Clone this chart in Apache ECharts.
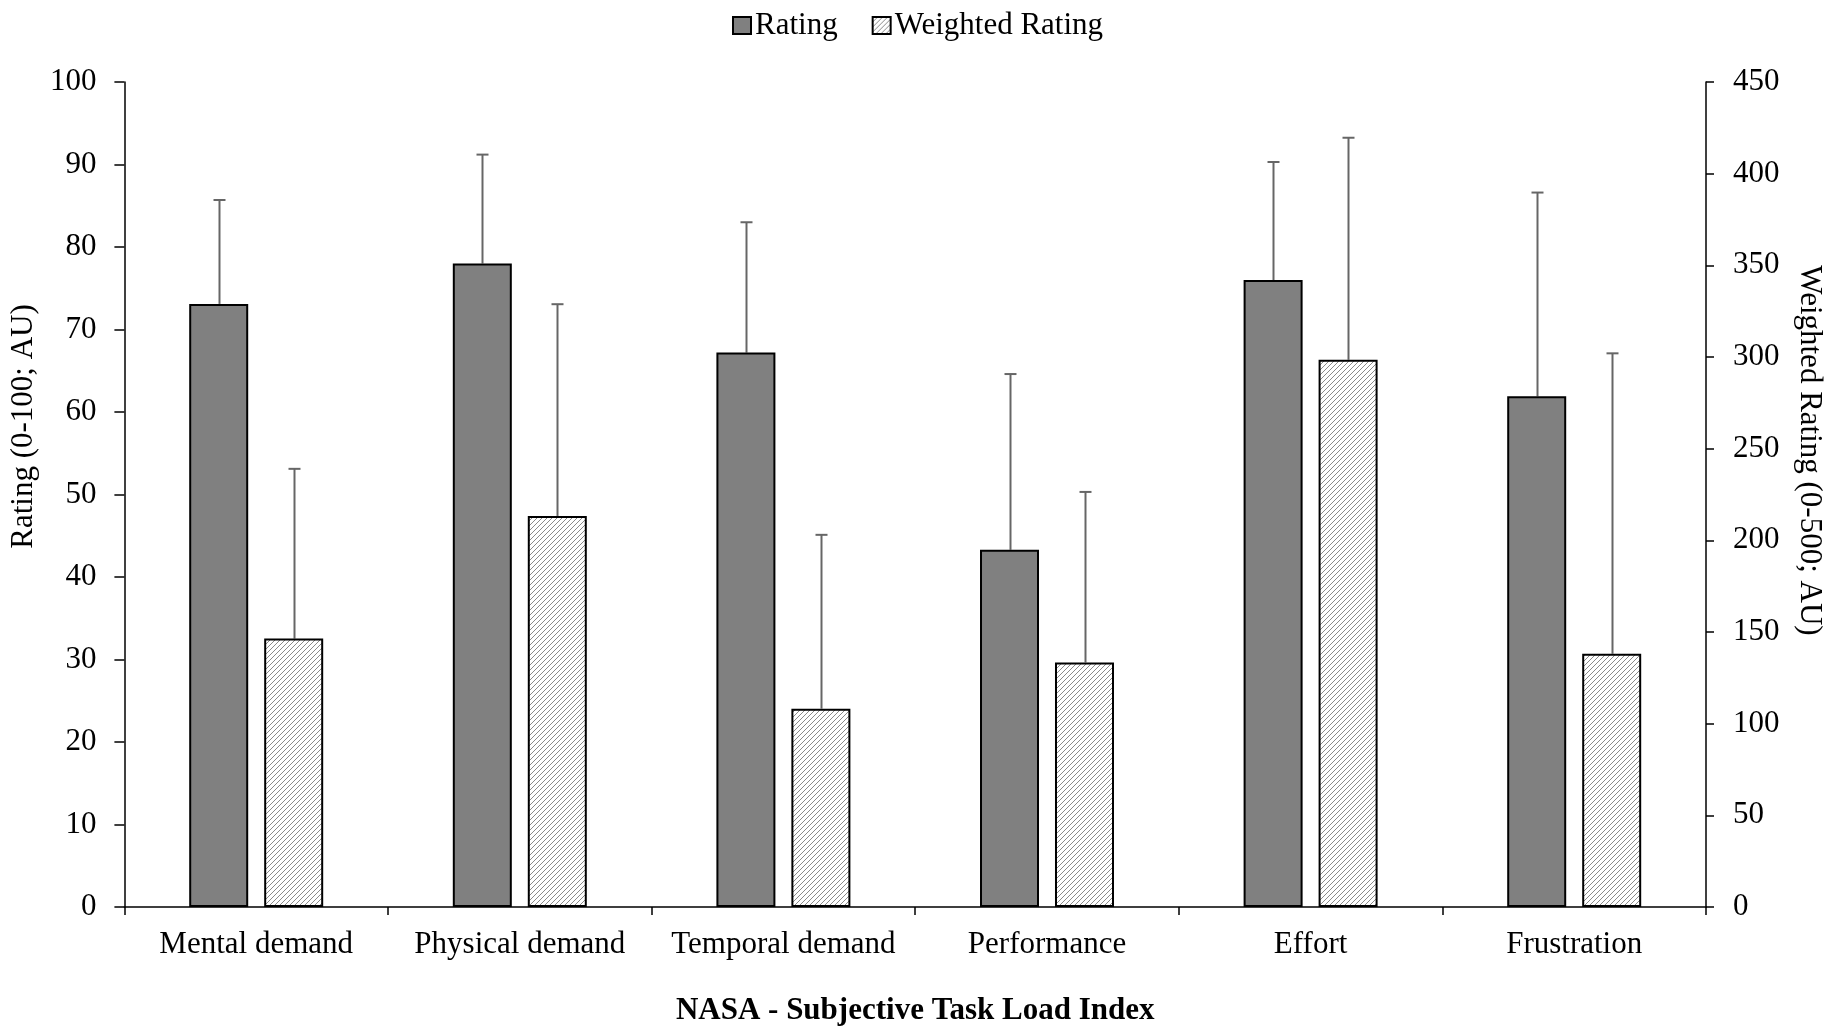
<!DOCTYPE html>
<html>
<head>
<meta charset="utf-8">
<script src="https://cdn.jsdelivr.net/npm/echarts@6/dist/echarts.min.js"></script>
<style>
  html, body { margin:0; padding:0; background:#fff; }
  #chart { width:1843px; height:1031px; }
</style>
</head>
<body>
<div id="chart"></div>
<script>
// ---- data ----
const categories = ['Mental demand', 'Physical demand', 'Temporal demand', 'Performance', 'Effort', 'Frustration'];
const ratingMean = [73.1, 78.0, 67.2, 43.3, 76.0, 61.9];
const ratingSD = [12.6, 13.2, 15.8, 21.3, 14.3, 24.7];
const weightedMean = [146.4, 213.3, 108.2, 133.4, 298.5, 138.2];
const weightedSD = [92.6, 115.5, 94.8, 93.0, 121.1, 163.8];
const leftTicks = { min: 0, max: 100, interval: 10 };
const rightTicks = { min: 0, max: 450, interval: 50 };

// ---- styling ----
const FONT = 'Liberation Serif';
const FS = 31;
const BAR_W = 59;
const GAP = 16;
const OFFSET = (BAR_W + GAP) / 2;

function hatch() {
  const c = document.createElement('canvas');
  c.width = 5; c.height = 5;
  const ctx = c.getContext('2d');
  ctx.fillStyle = '#ffffff';
  ctx.fillRect(0, 0, 5, 5);
  ctx.strokeStyle = '#8a8a8a';
  ctx.lineWidth = 1;
  ctx.beginPath();
  ctx.moveTo(0, 5); ctx.lineTo(5, 0);
  ctx.moveTo(-1, 1); ctx.lineTo(1, -1);
  ctx.moveTo(4, 6); ctx.lineTo(6, 4);
  ctx.stroke();
  return c;
}
const hatchFill = { image: hatch(), repeat: 'repeat' };

function errorSeries(name, means, sds, yAxisIndex, sign) {
  return {
    type: 'custom',
    name: name,
    yAxisIndex: yAxisIndex,
    z: 1,
    silent: true,
    encode: { x: 0, y: [1, 2] },
    data: means.map((m, i) => [i, m, m + sds[i]]),
    renderItem: function (params, api) {
      const base = api.coord([api.value(0), api.value(1)]);
      const top = api.coord([api.value(0), api.value(2)]);
      const cx = Math.round(base[0] + sign * OFFSET) + 0.5;
      return {
        type: 'group',
        children: [
          { type: 'line', shape: { x1: cx, y1: base[1], x2: cx, y2: top[1] }, style: { stroke: '#666666', lineWidth: 2 } },
          { type: 'line', shape: { x1: cx - 6, y1: top[1], x2: cx + 6, y2: top[1] }, style: { stroke: '#666666', lineWidth: 2 } }
        ]
      };
    }
  };
}

const chart = echarts.init(document.getElementById('chart'), null, { renderer: 'canvas' });
const textBase = { fontFamily: FONT, fontSize: FS, color: '#000' };

chart.setOption({
  animation: false,
  backgroundColor: '#ffffff',
  textStyle: { fontFamily: FONT, color: '#000' },
  legend: {
    data: ['Rating', 'Weighted Rating'],
    left: 727,
    top: 5,
    itemWidth: 18,
    itemHeight: 17,
    itemGap: 34,
    icon: 'rect',
    textStyle: Object.assign({}, textBase, { padding: [0, 0, 0, -1] })
  },
  grid: { left: 120, right: 137, top: 82, bottom: 123 },
  xAxis: {
    type: 'category',
    data: categories,
    name: 'NASA - Subjective Task Load Index',
    nameLocation: 'middle',
    nameGap: 88,
    nameTextStyle: Object.assign({}, textBase, { fontWeight: 'bold' }),
    axisLine: { lineStyle: { color: '#000', width: 1.5 } },
    axisTick: { show: true, length: 8, lineStyle: { color: '#000', width: 1.5 } },
    axisLabel: Object.assign({}, textBase, { margin: 22, interval: 0 }),
    splitLine: { show: false }
  },
  yAxis: [
    {
      type: 'value',
      min: leftTicks.min, max: leftTicks.max, interval: leftTicks.interval,
      name: 'Rating (0-100; AU)',
      nameLocation: 'middle',
      nameGap: 78,
      nameTextStyle: Object.assign({}, textBase, { padding: [0, 0, 0, 136] }),
      axisLine: { show: true, lineStyle: { color: '#000', width: 1.5 } },
      axisTick: { show: true, length: 10, lineStyle: { color: '#000', width: 1.5 } },
      axisLabel: Object.assign({}, textBase, { margin: 28 }),
      splitLine: { show: false }
    },
    {
      type: 'value',
      position: 'right',
      min: rightTicks.min, max: rightTicks.max, interval: rightTicks.interval,
      name: 'Weighted Rating (0-500; AU)',
      nameLocation: 'middle',
      nameGap: 88,
      nameRotate: -90,
      nameTextStyle: Object.assign({}, textBase, { padding: [0, 88, 0, 0] }),
      axisLine: { show: true, lineStyle: { color: '#000', width: 1.5 } },
      axisTick: { show: true, length: 8, lineStyle: { color: '#000', width: 1.5 } },
      axisLabel: Object.assign({}, textBase, { margin: 27 }),
      splitLine: { show: false }
    }
  ],
  series: [
    {
      name: 'Rating',
      type: 'bar',
      yAxisIndex: 0,
      data: ratingMean,
      barWidth: BAR_W,
      barGap: (GAP / BAR_W * 100).toFixed(1) + '%',
      z: 2,
      itemStyle: { color: '#808080', borderColor: '#000', borderWidth: 2 }
    },
    {
      name: 'Weighted Rating',
      type: 'bar',
      yAxisIndex: 1,
      data: weightedMean,
      barWidth: BAR_W,
      z: 2,
      itemStyle: { color: hatchFill, borderColor: '#000', borderWidth: 2 }
    },
    errorSeries('Rating SD', ratingMean, ratingSD, 0, -1),
    errorSeries('Weighted Rating SD', weightedMean, weightedSD, 1, 1)
  ]
});
</script>
</body>
</html>
